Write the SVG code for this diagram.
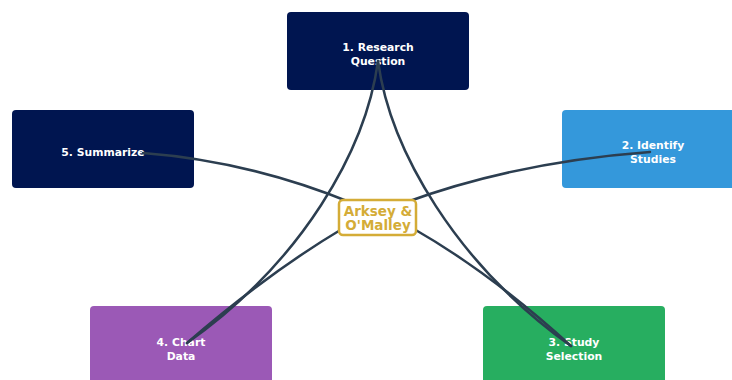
<svg xmlns="http://www.w3.org/2000/svg" width="732" height="380" viewBox="0 0 732 380">
<style>
.box{stroke:none}
.lbl{font-family:"DejaVu Sans","Liberation Sans",sans-serif;font-weight:bold;font-size:10.8px;fill:#ffffff;text-anchor:middle}
.edge{fill:none;stroke:#2c3e50;stroke-width:2.5;stroke-linecap:round}
.ctr{fill:#ffffff;stroke:#d4ac37;stroke-width:2.5}
.ctrlbl{font-family:"DejaVu Sans","Liberation Sans",sans-serif;font-weight:bold;font-size:13.5px;fill:#d4ac37;text-anchor:middle}
</style>
<rect width="732" height="380" fill="#ffffff"/>
<g id="node1">
<rect class="box" x="287" y="12" width="182" height="78" rx="4" fill="#001550"/>
<text class="lbl" x="378" y="51">1. Research</text>
<text class="lbl" x="378" y="65">Question</text>
</g>
<g id="node2">
<rect class="box" x="562" y="110" width="182" height="78" rx="4" fill="#3498db"/>
<text class="lbl" x="653" y="149">2. Identify</text>
<text class="lbl" x="653" y="163">Studies</text>
</g>
<g id="node3">
<rect class="box" x="483" y="306" width="182" height="80" rx="4" fill="#27ae60"/>
<text class="lbl" x="574" y="346">3. Study</text>
<text class="lbl" x="574" y="360">Selection</text>
</g>
<g id="node4">
<rect class="box" x="90" y="306" width="182" height="80" rx="4" fill="#9b59b6"/>
<text class="lbl" x="181" y="346">4. Chart</text>
<text class="lbl" x="181" y="360">Data</text>
</g>
<g id="node5">
<rect class="box" x="12" y="110" width="182" height="78" rx="4" fill="#001550"/>
<text class="lbl" x="103" y="156">5. Summarize</text>
</g>
<g id="connectors">
<path class="edge" d="M378,61 C366,150 302,262 187,343"/>
<path class="edge" d="M378,61 C390,150 456,264 571,346"/>
<path class="edge" d="M143,153 Q249,161 352,203"/>
<path class="edge" d="M650,152 Q515,162 404,203"/>
<path class="edge" d="M342,229 Q268,273 187,343"/>
<path class="edge" d="M414,229 Q491,273 571,346"/>
</g>
<g id="center">
<rect class="ctr" x="339" y="200" width="77" height="35" rx="4"/>
<text class="ctrlbl" x="378" y="215.5">Arksey &amp;</text>
<text class="ctrlbl" x="378" y="230">O'Malley</text>
</g>
</svg>
